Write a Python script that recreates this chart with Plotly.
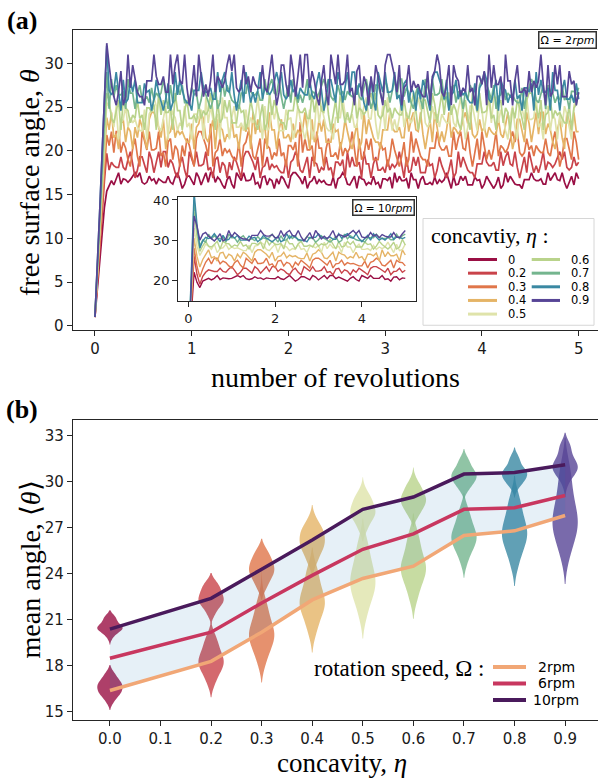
import numpy as np
import plotly.graph_objects as go

# ---------------- data ----------------
eta_labels = ["0", "0.2", "0.3", "0.4", "0.5", "0.6", "0.7", "0.8", "0.9"]
eta_values = [0.0, 0.2, 0.3, 0.4, 0.5, 0.6, 0.7, 0.8, 0.9]
eta_ticktext = ["0.0", "0.1", "0.2", "0.3", "0.4", "0.5", "0.6", "0.7", "0.8", "0.9"]
eta_tickvals = [0.0, 0.1, 0.2, 0.3, 0.4, 0.5, 0.6, 0.7, 0.8, 0.9]

line_colors = ["#9a0f44", "#c9434a", "#e0764a", "#e5b466", "#dfe3aa",
               "#b9d38b", "#74b58e", "#3a88a2", "#574596"]

# free surface angle time series, Omega = 2 rpm (0 -> 5 revolutions)
theta_2rpm_eta00 = [1.0, 4.0, 7.5, 10.5, 13.5, 15.4,
    16.1, 16.6, 16.1, 16.7, 17.5, 16.2, 16.8, 16.7, 16.4, 16.7, 17.1, 17.5, 17.0, 17.5, 16.4, 16.2, 16.4, 17.1, 16.6, 16.8,
    16.2, 16.8, 16.6, 16.4, 16.4, 17.1, 16.4, 16.2, 17.0, 17.5, 16.7, 15.7, 16.2, 17.1, 17.1, 16.6, 16.1, 17.5, 17.0, 16.1,
    16.8, 17.5, 16.4, 17.5, 17.5, 16.4, 17.0, 16.7, 16.1, 15.7, 16.7, 17.1, 16.2, 15.7, 17.5, 17.0, 16.6, 17.5, 16.6, 16.6,
    16.7, 17.5, 16.2, 16.4, 15.7, 17.0, 17.1, 16.1, 16.8, 16.6, 15.7, 16.8, 16.2, 17.1, 16.8, 16.2, 15.7, 17.1, 17.5, 17.5,
    17.1, 16.8, 16.2, 17.1, 15.7, 16.4, 16.6, 17.1, 16.2, 16.7, 16.4, 16.6, 16.2, 16.1, 16.1, 17.0, 15.7, 16.8, 17.0, 17.5,
    17.1, 16.2, 16.1, 16.6, 17.1, 15.7, 17.1, 16.8, 16.7, 16.1, 16.4, 16.2, 17.1, 16.2, 16.4, 15.7, 16.8, 16.8, 16.6, 17.0,
    15.7, 17.5, 16.4, 17.1, 16.6, 16.6, 16.8, 15.7, 17.5, 16.7, 16.7, 15.7, 16.7, 17.1, 16.2, 16.2, 16.4, 16.1, 17.0, 16.2,
    16.7, 16.4, 16.7, 17.5, 16.6, 15.7, 17.1, 16.1, 16.2, 17.1, 16.6, 17.1, 16.1, 16.1, 16.1, 17.0, 16.6, 16.7, 15.7, 16.2,
    17.1, 16.6, 16.1, 15.7, 16.2, 17.0, 15.7, 16.1, 17.5, 16.4, 17.1, 16.7, 16.2, 16.1, 16.1, 15.7, 16.7, 16.7, 16.7, 17.5,
    16.8, 16.6, 16.6, 16.8, 16.2, 16.2, 17.5, 16.6, 17.1, 17.5, 16.7, 16.6, 17.5, 16.4, 15.7, 16.4, 17.1, 16.1, 17.5, 16.8]
theta_2rpm_eta02 = [1.0, 4.5, 8.5, 12.5, 16.5, 19.7,
    17.8, 18.7, 18.3, 18.1, 18.1, 19.3, 18.1, 17.8, 19.0, 19.9, 18.5, 16.9, 17.8, 19.3, 19.3, 18.3, 17.5, 19.9, 19.0, 17.5,
    18.7, 19.9, 18.1, 19.9, 19.9, 18.1, 19.0, 18.5, 17.5, 16.9, 18.5, 19.3, 17.8, 16.9, 19.9, 19.0, 18.3, 19.9, 18.3, 18.3,
    18.5, 19.9, 17.8, 18.1, 16.9, 19.0, 19.3, 17.5, 18.7, 18.3, 16.9, 18.7, 17.8, 19.3, 18.7, 17.8, 16.9, 19.3, 19.9, 19.9,
    19.3, 18.7, 17.8, 19.3, 16.9, 18.1, 18.3, 19.3, 17.8, 18.5, 18.1, 18.3, 17.8, 17.5, 17.5, 19.0, 16.9, 18.7, 19.0, 19.9,
    19.3, 17.8, 17.5, 18.3, 19.3, 16.9, 19.3, 18.7, 18.5, 17.5, 18.1, 17.8, 19.3, 17.8, 18.1, 16.9, 18.7, 18.7, 18.3, 19.0,
    16.9, 19.9, 18.1, 19.3, 18.3, 18.3, 18.7, 16.9, 19.9, 18.5, 18.5, 16.9, 18.5, 19.3, 17.8, 17.8, 18.1, 17.5, 19.0, 17.8,
    18.5, 18.1, 18.5, 19.9, 18.3, 16.9, 19.3, 17.5, 17.8, 19.3, 18.3, 19.3, 17.5, 17.5, 17.5, 19.0, 18.3, 18.5, 16.9, 17.8,
    19.3, 18.3, 17.5, 16.9, 17.8, 19.0, 16.9, 17.5, 19.9, 18.1, 19.3, 18.5, 17.8, 17.5, 17.5, 16.9, 18.5, 18.5, 18.5, 19.9,
    18.7, 18.3, 18.3, 18.7, 17.8, 17.8, 19.9, 18.3, 19.3, 19.9, 18.5, 18.3, 19.9, 18.1, 16.9, 18.1, 19.3, 17.5, 19.9, 18.7,
    17.5, 18.3, 17.5, 18.5, 19.9, 17.8, 18.7, 18.5, 18.1, 18.5, 19.3, 19.9, 19.0, 19.9, 18.1, 17.8, 18.1, 19.3, 18.3, 18.7]
theta_2rpm_eta03 = [1.0, 5.0, 9.5, 13.5, 18.0, 21.8,
    20.6, 22.2, 19.8, 22.2, 22.2, 19.8, 21.0, 20.3, 19.0, 18.2, 20.3, 21.4, 19.4, 18.2, 22.2, 21.0, 20.1, 22.2, 20.1, 20.1,
    20.3, 22.2, 19.4, 19.8, 18.2, 21.0, 21.4, 19.0, 20.6, 20.1, 18.2, 20.6, 19.4, 21.4, 20.6, 19.4, 18.2, 21.4, 22.2, 22.2,
    21.4, 20.6, 19.4, 23.1, 18.2, 19.8, 20.1, 21.4, 19.4, 20.3, 19.8, 20.1, 19.4, 19.0, 19.0, 21.0, 18.2, 20.6, 21.0, 22.2,
    21.4, 19.4, 19.0, 20.1, 21.4, 18.2, 21.4, 20.6, 20.3, 19.0, 19.8, 19.4, 21.4, 19.4, 19.8, 18.2, 20.6, 20.6, 20.1, 21.0,
    18.2, 23.3, 19.8, 21.4, 20.1, 20.1, 20.6, 18.2, 22.2, 20.3, 20.3, 18.2, 20.3, 21.4, 19.4, 19.4, 19.8, 19.0, 21.0, 19.4,
    20.3, 19.8, 20.3, 22.2, 20.1, 18.2, 21.4, 19.0, 19.4, 21.4, 20.1, 21.4, 19.0, 19.0, 19.0, 21.0, 20.1, 20.3, 18.2, 19.4,
    21.4, 20.1, 19.0, 18.2, 19.4, 21.0, 18.2, 19.0, 22.2, 19.8, 21.4, 20.3, 19.4, 19.0, 19.0, 18.2, 20.3, 20.3, 20.3, 22.2,
    20.6, 20.1, 20.1, 20.6, 19.4, 19.4, 22.2, 20.1, 21.4, 22.2, 20.3, 20.1, 22.2, 19.8, 18.2, 19.8, 21.4, 19.0, 22.2, 20.6,
    19.0, 20.1, 19.0, 20.3, 22.2, 19.4, 20.6, 20.3, 19.8, 20.3, 21.4, 22.2, 21.0, 22.2, 19.8, 19.4, 19.8, 21.4, 20.1, 20.6,
    19.4, 20.6, 20.1, 19.8, 19.8, 21.4, 19.8, 19.4, 21.0, 22.2, 20.3, 18.2, 19.4, 21.4, 21.4, 20.1, 19.0, 22.2, 21.0, 19.0]
theta_2rpm_eta04 = [1.0, 5.5, 10.0, 14.5, 19.5, 23.8,
    22.4, 24.4, 21.5, 21.9, 20.2, 23.1, 23.6, 21.0, 22.7, 22.2, 20.2, 22.7, 21.5, 23.6, 22.7, 21.5, 20.2, 23.6, 24.4, 24.4,
    23.6, 22.7, 21.5, 23.6, 20.2, 21.9, 22.2, 23.6, 21.5, 22.4, 21.9, 22.2, 21.5, 21.0, 21.0, 23.1, 20.2, 22.7, 23.1, 24.4,
    23.6, 21.5, 21.0, 22.2, 23.6, 20.2, 23.6, 22.7, 22.4, 21.0, 21.9, 21.5, 23.6, 21.5, 21.9, 20.2, 22.7, 22.7, 22.2, 23.1,
    20.2, 24.4, 21.9, 23.6, 22.2, 22.2, 22.7, 20.2, 24.4, 22.4, 22.4, 20.2, 22.4, 23.6, 21.5, 21.5, 21.9, 21.0, 23.1, 21.5,
    22.4, 21.9, 22.4, 24.4, 22.2, 20.2, 23.6, 21.0, 21.5, 23.6, 22.2, 23.6, 21.0, 21.0, 21.0, 23.1, 22.2, 22.4, 20.2, 21.5,
    23.6, 22.2, 21.0, 20.2, 21.5, 23.1, 20.2, 21.0, 24.4, 21.9, 23.6, 22.4, 21.5, 21.0, 21.0, 20.2, 22.4, 22.4, 22.4, 24.4,
    22.7, 22.2, 22.2, 22.7, 21.5, 21.5, 24.4, 22.2, 23.6, 24.4, 22.4, 22.2, 24.4, 21.9, 20.2, 21.9, 23.6, 21.0, 24.4, 22.7,
    21.0, 22.2, 21.0, 22.4, 24.4, 21.5, 22.7, 22.4, 21.9, 22.4, 23.6, 24.4, 23.1, 24.4, 21.9, 21.5, 21.9, 23.6, 22.2, 22.7,
    21.5, 22.7, 22.2, 21.9, 21.9, 23.6, 21.9, 21.5, 23.1, 24.4, 22.4, 20.2, 21.5, 23.6, 23.6, 22.2, 21.0, 24.4, 23.1, 21.0,
    22.7, 24.4, 21.9, 24.4, 24.4, 21.9, 23.1, 22.4, 21.0, 20.2, 22.4, 23.6, 21.5, 20.2, 24.4, 23.1, 22.2, 24.4, 22.2, 22.2]
theta_2rpm_eta05 = [1.0, 5.5, 10.5, 15.5, 20.5, 25.5,
    25.1, 24.2, 22.7, 25.1, 21.3, 23.2, 23.6, 25.1, 22.7, 23.8, 23.2, 23.6, 22.7, 22.3, 22.3, 24.7, 21.3, 24.2, 24.7, 26.1,
    25.1, 22.7, 22.3, 23.6, 25.1, 21.3, 25.1, 24.2, 23.8, 22.3, 23.2, 22.7, 25.1, 22.7, 23.2, 21.3, 24.2, 24.2, 23.6, 24.7,
    21.3, 26.1, 23.2, 25.1, 23.6, 23.6, 24.2, 21.3, 26.1, 23.8, 23.8, 21.3, 23.8, 25.1, 22.7, 22.7, 23.2, 22.3, 24.7, 22.7,
    23.8, 23.2, 23.8, 26.1, 23.6, 21.3, 25.1, 22.3, 22.7, 25.1, 23.6, 25.1, 22.3, 22.3, 22.3, 24.7, 23.6, 23.8, 21.3, 22.7,
    25.1, 23.6, 22.3, 21.3, 22.7, 24.7, 21.3, 22.3, 26.1, 23.2, 25.1, 23.8, 22.7, 22.3, 22.3, 21.3, 23.8, 23.8, 23.8, 26.1,
    24.2, 23.6, 23.6, 24.2, 22.7, 22.7, 26.1, 23.6, 25.1, 26.1, 23.8, 23.6, 26.1, 23.2, 21.3, 23.2, 25.1, 22.3, 26.1, 24.2,
    22.3, 23.6, 22.3, 23.8, 26.1, 22.7, 24.2, 23.8, 23.2, 23.8, 25.1, 26.1, 24.7, 26.1, 23.2, 22.7, 23.2, 25.1, 23.6, 24.2,
    22.7, 24.2, 23.6, 23.2, 23.2, 25.1, 23.2, 22.7, 24.7, 26.1, 23.8, 21.3, 22.7, 25.1, 25.1, 23.6, 22.3, 26.1, 24.7, 22.3,
    24.2, 26.1, 23.2, 26.1, 26.1, 23.2, 24.7, 23.8, 22.3, 21.3, 23.8, 25.1, 22.7, 21.3, 26.1, 24.7, 23.6, 26.1, 23.6, 23.6,
    23.8, 26.1, 22.7, 23.2, 21.3, 24.7, 25.1, 22.3, 24.2, 23.6, 21.3, 24.2, 22.7, 25.1, 24.2, 22.7, 21.3, 25.1, 26.1, 26.1]
theta_2rpm_eta06 = [1.0, 6.0, 11.0, 16.5, 21.5, 26.6,
    25.8, 23.7, 23.2, 24.4, 25.8, 22.4, 25.8, 24.9, 24.6, 23.2, 24.1, 23.7, 25.8, 23.7, 24.1, 22.4, 24.9, 24.9, 24.4, 25.3,
    22.4, 26.6, 24.1, 25.8, 24.4, 24.4, 24.9, 22.4, 26.6, 24.6, 24.6, 22.4, 24.6, 25.8, 23.7, 23.7, 24.1, 23.2, 25.3, 23.7,
    24.6, 24.1, 24.6, 26.6, 24.4, 22.4, 25.8, 23.2, 23.7, 25.8, 24.4, 25.8, 23.2, 23.2, 23.2, 25.3, 24.4, 24.6, 22.4, 23.7,
    25.8, 24.4, 23.2, 22.4, 23.7, 25.3, 22.4, 23.2, 26.6, 24.1, 25.8, 24.6, 23.7, 23.2, 23.2, 22.4, 24.6, 24.6, 24.6, 26.6,
    24.9, 24.4, 24.4, 24.9, 23.7, 23.7, 26.6, 24.4, 25.8, 26.6, 24.6, 24.4, 26.6, 24.1, 22.4, 24.1, 25.8, 23.2, 26.6, 24.9,
    23.2, 24.4, 23.2, 24.6, 26.6, 23.7, 24.9, 24.6, 24.1, 24.6, 25.8, 26.6, 25.3, 26.6, 24.1, 23.7, 24.1, 25.8, 24.4, 24.9,
    23.7, 24.9, 24.4, 24.1, 24.1, 25.8, 24.1, 23.7, 25.3, 26.6, 24.6, 22.4, 23.7, 25.8, 25.8, 24.4, 23.2, 26.6, 25.3, 23.2,
    24.9, 26.6, 24.1, 26.6, 26.6, 24.1, 25.3, 24.6, 23.2, 22.4, 24.6, 25.8, 23.7, 22.4, 26.6, 25.3, 24.4, 26.6, 24.4, 24.4,
    24.6, 26.6, 23.7, 24.1, 22.4, 25.3, 25.8, 23.2, 24.9, 24.4, 22.4, 24.9, 23.7, 25.8, 24.9, 23.7, 22.4, 25.8, 26.6, 26.6,
    25.8, 24.9, 23.7, 25.8, 22.4, 24.1, 24.4, 25.8, 23.7, 24.6, 24.1, 24.4, 23.7, 23.2, 23.2, 25.3, 22.4, 24.9, 25.3, 26.6]
theta_2rpm_eta07 = [1.0, 6.0, 12.0, 17.5, 23.5, 29.0,
    24.8, 28.2, 26.2, 27.5, 26.4, 26.4, 26.8, 24.8, 28.2, 26.6, 26.6, 24.8, 26.6, 27.5, 25.8, 25.8, 26.2, 25.5, 27.2, 25.8,
    26.6, 26.2, 26.6, 28.2, 26.4, 24.8, 27.5, 25.5, 25.8, 27.5, 26.4, 27.5, 25.5, 25.5, 25.5, 27.2, 26.4, 26.6, 24.8, 25.8,
    27.5, 26.4, 25.5, 24.8, 25.8, 27.2, 24.8, 25.5, 28.2, 26.2, 27.5, 26.6, 25.8, 25.5, 25.5, 24.8, 26.6, 26.6, 26.6, 28.2,
    26.8, 26.4, 26.4, 26.8, 25.8, 25.8, 28.2, 26.4, 27.5, 28.2, 26.6, 26.4, 28.2, 26.2, 24.8, 26.2, 27.5, 25.5, 28.2, 26.8,
    25.5, 26.4, 25.5, 26.6, 28.2, 25.8, 26.8, 26.6, 26.2, 26.6, 27.5, 28.2, 27.2, 28.2, 26.2, 25.8, 26.2, 27.5, 26.4, 26.8,
    25.8, 26.8, 26.4, 26.2, 26.2, 27.5, 26.2, 25.8, 27.2, 28.2, 26.6, 24.8, 25.8, 27.5, 27.5, 26.4, 25.5, 28.2, 27.2, 25.5,
    26.8, 28.2, 26.2, 28.2, 28.2, 26.2, 27.2, 26.6, 25.5, 24.8, 26.6, 27.5, 25.8, 24.8, 28.2, 27.2, 26.4, 28.2, 26.4, 26.4,
    26.6, 28.2, 25.8, 26.2, 24.8, 27.2, 27.5, 25.5, 26.8, 26.4, 24.8, 26.8, 25.8, 27.5, 26.8, 25.8, 24.8, 27.5, 28.2, 28.2,
    27.5, 26.8, 25.8, 27.5, 24.8, 26.2, 26.4, 27.5, 25.8, 26.6, 26.2, 26.4, 25.8, 25.5, 25.5, 27.2, 24.8, 26.8, 27.2, 28.2,
    27.5, 25.8, 25.5, 26.4, 27.5, 24.8, 27.5, 26.8, 26.6, 25.5, 26.2, 25.8, 27.5, 25.8, 26.2, 24.8, 26.8, 26.8, 26.4, 27.2]
theta_2rpm_eta08 = [1.0, 6.5, 13.0, 19.5, 25.5, 32.0,
    26.9, 26.4, 26.9, 29.0, 26.7, 24.6, 28.1, 25.5, 25.9, 28.1, 26.7, 28.1, 25.5, 25.5, 25.5, 27.7, 26.7, 26.9, 24.6, 25.9,
    28.1, 26.7, 25.5, 24.6, 25.9, 27.7, 24.6, 25.5, 29.0, 26.4, 28.1, 26.9, 25.9, 25.5, 25.5, 24.6, 26.9, 26.9, 26.9, 29.0,
    27.2, 26.7, 26.7, 27.2, 25.9, 25.9, 29.0, 26.7, 28.1, 29.0, 26.9, 26.7, 29.0, 26.4, 24.6, 26.4, 28.1, 25.5, 29.0, 27.2,
    25.5, 26.7, 25.5, 26.9, 29.0, 25.9, 27.2, 26.9, 26.4, 26.9, 28.1, 29.0, 27.7, 29.0, 26.4, 25.9, 26.4, 28.1, 26.7, 27.2,
    25.9, 27.2, 26.7, 26.4, 26.4, 28.1, 26.4, 25.9, 27.7, 29.0, 26.9, 24.6, 25.9, 28.1, 28.1, 26.7, 25.5, 29.0, 27.7, 25.5,
    27.2, 29.0, 26.4, 29.0, 29.0, 26.4, 27.7, 26.9, 25.5, 24.6, 26.9, 28.1, 25.9, 24.6, 29.0, 27.7, 26.7, 29.0, 26.7, 26.7,
    26.9, 29.0, 25.9, 26.4, 24.6, 27.7, 28.1, 25.5, 27.2, 26.7, 24.6, 27.2, 25.9, 28.1, 27.2, 25.9, 24.6, 28.1, 29.0, 29.0,
    28.1, 27.2, 25.9, 28.1, 24.6, 26.4, 26.7, 28.1, 25.9, 26.9, 26.4, 26.7, 25.9, 25.5, 25.5, 27.7, 24.6, 27.2, 27.7, 29.0,
    28.1, 25.9, 25.5, 26.7, 28.1, 24.6, 28.1, 27.2, 26.9, 25.5, 26.4, 25.9, 28.1, 25.9, 26.4, 24.6, 27.2, 27.2, 26.7, 27.7,
    24.6, 29.0, 26.4, 28.1, 26.7, 26.7, 27.2, 24.6, 29.0, 26.9, 26.9, 24.6, 26.9, 28.1, 25.9, 25.9, 26.4, 25.5, 27.7, 25.9]
theta_2rpm_eta09 = [1.0, 6.5, 13.0, 19.5, 26.0, 32.3,
    29.8, 27.6, 26.2, 25.2, 26.7, 29.1, 25.2, 26.2, 31.0, 27.2, 29.8, 28.0, 26.7, 26.2, 26.2, 25.2, 28.0, 28.0, 28.0, 31.0,
    28.5, 27.6, 27.6, 28.5, 26.7, 26.7, 31.0, 27.6, 29.8, 31.0, 28.0, 27.6, 31.0, 27.2, 25.2, 27.2, 29.8, 26.2, 31.0, 28.5,
    26.2, 27.6, 26.2, 28.0, 31.0, 26.7, 28.5, 28.0, 27.2, 28.0, 29.8, 31.0, 29.1, 31.0, 27.2, 26.7, 27.2, 29.8, 27.6, 28.5,
    26.7, 28.5, 27.6, 27.2, 27.2, 29.8, 27.2, 26.7, 29.1, 31.0, 28.0, 25.2, 26.7, 29.8, 29.8, 27.6, 26.2, 31.0, 29.1, 26.2,
    28.5, 31.0, 27.2, 31.0, 31.0, 27.2, 29.1, 28.0, 26.2, 25.2, 28.0, 29.8, 26.7, 25.2, 31.0, 29.1, 27.6, 31.0, 27.6, 27.6,
    28.0, 31.0, 26.7, 27.2, 25.2, 29.1, 29.8, 26.2, 28.5, 27.6, 25.2, 28.5, 26.7, 29.8, 28.5, 26.7, 25.2, 29.8, 31.0, 31.0,
    29.8, 28.5, 26.7, 29.8, 25.2, 27.2, 27.6, 29.8, 26.7, 28.0, 27.2, 27.6, 26.7, 26.2, 26.2, 29.1, 25.2, 28.5, 29.1, 31.0,
    29.8, 26.7, 26.2, 27.6, 29.8, 25.2, 29.8, 28.5, 28.0, 26.2, 27.2, 26.7, 29.8, 26.7, 27.2, 25.2, 28.5, 28.5, 27.6, 29.1,
    25.2, 31.0, 27.2, 29.8, 27.6, 27.6, 28.5, 25.2, 31.0, 28.0, 28.0, 25.2, 28.0, 29.8, 26.7, 26.7, 27.2, 26.2, 29.1, 26.7,
    28.0, 27.2, 28.0, 31.0, 27.6, 25.2, 29.8, 26.2, 26.7, 29.8, 27.6, 29.8, 26.2, 26.2, 26.2, 29.1, 27.6, 28.0, 25.2, 26.7]

# free surface angle time series, Omega = 10 rpm (inset)
theta_10rpm_eta00 = [0.0, 11.0, 22.0, 19.5, 18.2, 19.8,
    20.1, 20.5, 20.1, 20.5, 21.2, 20.2, 20.6, 20.5, 20.4, 20.5, 20.9, 21.2, 20.8, 21.2, 20.4, 20.2, 20.4, 20.9, 20.5, 20.6,
    20.2, 20.6, 20.5, 20.4, 20.4, 20.9, 20.4, 20.2, 20.8, 21.2, 20.5, 19.8, 20.2, 20.9, 20.9, 20.5, 20.1, 21.2, 20.8, 20.1,
    20.6, 21.2, 20.4, 21.2, 21.2, 20.4, 20.8, 20.5, 20.1, 19.8, 20.5, 20.9, 20.2, 19.8, 21.2, 20.8, 20.5, 21.2, 20.5, 20.5,
    20.5, 21.2, 20.2, 20.4, 19.8, 20.8, 20.9, 20.1, 20.6, 20.5]
theta_10rpm_eta02 = [0.0, 13.0, 26.0, 21.5, 19.0, 21.0,
    22.0, 22.6, 22.3, 22.2, 22.2, 23.0, 22.2, 22.0, 22.8, 23.4, 22.5, 21.4, 22.0, 23.0, 23.0, 22.3, 21.8, 23.4, 22.8, 21.8,
    22.6, 23.4, 22.2, 23.4, 23.4, 22.2, 22.8, 22.5, 21.8, 21.4, 22.5, 23.0, 22.0, 21.4, 23.4, 22.8, 22.3, 23.4, 22.3, 22.3,
    22.5, 23.4, 22.0, 22.2, 21.4, 22.8, 23.0, 21.8, 22.6, 22.3, 21.4, 22.6, 22.0, 23.0, 22.6, 22.0, 21.4, 23.0, 23.4, 23.4,
    23.0, 22.6, 22.0, 23.0, 21.4, 22.2, 22.3, 23.0, 22.0, 22.5]
theta_10rpm_eta03 = [0.0, 14.0, 28.0, 23.5, 20.8, 22.8,
    24.5, 25.5, 24.1, 25.5, 25.5, 24.1, 24.8, 24.4, 23.6, 23.1, 24.4, 25.0, 23.8, 23.1, 25.5, 24.8, 24.2, 25.5, 24.2, 24.2,
    24.4, 25.5, 23.8, 24.1, 23.1, 24.8, 25.0, 23.6, 24.5, 24.2, 23.1, 24.5, 23.8, 25.0, 24.5, 23.8, 23.1, 25.0, 25.5, 25.5,
    25.0, 24.5, 23.8, 25.0, 23.1, 24.1, 24.2, 25.0, 23.8, 24.4, 24.1, 24.2, 23.8, 23.6, 23.6, 24.8, 23.1, 24.5, 24.8, 25.5,
    25.0, 23.8, 23.6, 24.2, 25.0, 23.1, 25.0, 24.5, 24.4, 23.6]
theta_10rpm_eta04 = [0.0, 15.0, 30.5, 26.0, 23.3, 25.2,
    26.3, 27.6, 25.6, 25.9, 24.8, 26.8, 27.0, 25.4, 26.5, 26.1, 24.8, 26.5, 25.6, 27.0, 26.5, 25.6, 24.8, 27.0, 27.6, 27.6,
    27.0, 26.5, 25.6, 27.0, 24.8, 25.9, 26.1, 27.0, 25.6, 26.3, 25.9, 26.1, 25.6, 25.4, 25.4, 26.8, 24.8, 26.5, 26.8, 27.6,
    27.0, 25.6, 25.4, 26.1, 27.0, 24.8, 27.0, 26.5, 26.3, 25.4, 25.9, 25.6, 27.0, 25.6, 25.9, 24.8, 26.5, 26.5, 26.1, 26.8,
    24.8, 27.6, 25.9, 27.0, 26.1, 26.1, 26.5, 24.8, 27.6, 26.3]
theta_10rpm_eta05 = [0.0, 16.5, 33.0, 28.5, 26.2, 27.5,
    29.0, 28.5, 27.7, 29.0, 26.9, 27.9, 28.1, 29.0, 27.7, 28.3, 27.9, 28.1, 27.7, 27.4, 27.4, 28.7, 26.9, 28.5, 28.7, 29.5,
    29.0, 27.7, 27.4, 28.1, 29.0, 26.9, 29.0, 28.5, 28.3, 27.4, 27.9, 27.7, 29.0, 27.7, 27.9, 26.9, 28.5, 28.5, 28.1, 28.7,
    26.9, 29.5, 27.9, 29.0, 28.1, 28.1, 28.5, 26.9, 29.5, 28.3, 28.3, 26.9, 28.3, 29.0, 27.7, 27.7, 27.9, 27.4, 28.7, 27.7,
    28.3, 27.9, 28.3, 29.5, 28.1, 26.9, 29.0, 27.4, 27.7, 29.0]
theta_10rpm_eta06 = [0.0, 18.5, 37.0, 31.0, 27.2, 28.6,
    29.7, 28.5, 28.3, 28.9, 29.7, 27.8, 29.7, 29.2, 29.1, 28.3, 28.8, 28.5, 29.7, 28.5, 28.8, 27.8, 29.2, 29.2, 28.9, 29.5,
    27.8, 30.2, 28.8, 29.7, 28.9, 28.9, 29.2, 27.8, 30.2, 29.1, 29.1, 27.8, 29.1, 29.7, 28.5, 28.5, 28.8, 28.3, 29.5, 28.5,
    29.1, 28.8, 29.1, 30.2, 28.9, 27.8, 29.7, 28.3, 28.5, 29.7, 28.9, 29.7, 28.3, 28.3, 28.3, 29.5, 28.9, 29.1, 27.8, 28.5,
    29.7, 28.9, 28.3, 27.8, 28.5, 29.5, 27.8, 28.3, 30.2, 28.8]
theta_10rpm_eta07 = [0.0, 20.0, 40.0, 33.0, 28.6, 30.0,
    29.5, 31.5, 30.3, 31.1, 30.4, 30.4, 30.7, 29.5, 31.5, 30.6, 30.6, 29.5, 30.6, 31.1, 30.1, 30.1, 30.3, 29.9, 30.9, 30.1,
    30.6, 30.3, 30.6, 31.5, 30.4, 29.5, 31.1, 29.9, 30.1, 31.1, 30.4, 31.1, 29.9, 29.9, 29.9, 30.9, 30.4, 30.6, 29.5, 30.1,
    31.1, 30.4, 29.9, 29.5, 30.1, 30.9, 29.5, 29.9, 31.5, 30.3, 31.1, 30.6, 30.1, 29.9, 29.9, 29.5, 30.6, 30.6, 30.6, 31.5,
    30.7, 30.4, 30.4, 30.7, 30.1, 30.1, 31.5, 30.4, 31.1, 31.5]
theta_10rpm_eta08 = [0.0, 21.0, 42.0, 34.0, 28.0, 29.8,
    30.7, 30.4, 30.7, 31.6, 30.5, 29.6, 31.2, 30.0, 30.2, 31.2, 30.5, 31.2, 30.0, 30.0, 30.0, 31.0, 30.5, 30.7, 29.6, 30.2,
    31.2, 30.5, 30.0, 29.6, 30.2, 31.0, 29.6, 30.0, 31.6, 30.4, 31.2, 30.7, 30.2, 30.0, 30.0, 29.6, 30.7, 30.7, 30.7, 31.6,
    30.8, 30.5, 30.5, 30.8, 30.2, 30.2, 31.6, 30.5, 31.2, 31.6, 30.7, 30.5, 31.6, 30.4, 29.6, 30.4, 31.2, 30.0, 31.6, 30.8,
    30.0, 30.5, 30.0, 30.7, 31.6, 30.2, 30.8, 30.7, 30.4, 30.7]
theta_10rpm_eta09 = [0.0, 18.0, 36.0, 33.5, 30.0, 31.5,
    31.9, 31.0, 30.3, 29.8, 30.6, 31.6, 29.8, 30.3, 32.4, 30.8, 31.9, 31.2, 30.6, 30.3, 30.3, 29.8, 31.2, 31.2, 31.2, 32.4,
    31.4, 31.0, 31.0, 31.4, 30.6, 30.6, 32.4, 31.0, 31.9, 32.4, 31.2, 31.0, 32.4, 30.8, 29.8, 30.8, 31.9, 30.3, 32.4, 31.4,
    30.3, 31.0, 30.3, 31.2, 32.4, 30.6, 31.4, 31.2, 30.8, 31.2, 31.9, 32.4, 31.6, 32.4, 30.8, 30.6, 30.8, 31.9, 31.0, 31.4,
    30.6, 31.4, 31.0, 30.8, 30.8, 31.9, 30.8, 30.6, 31.6, 32.4]

# mean angle vs concavity for each rotation speed
speed_labels = ["2rpm", "6rpm", "10rpm"]
mean_2rpm = [16.4, 18.3, 20.2, 22.3, 23.7, 24.5, 26.5, 26.8, 27.8]
mean_6rpm = [18.5, 20.2, 22.1, 23.9, 25.6, 26.6, 28.2, 28.3, 29.1]
mean_10rpm = [20.4, 22.4, 24.3, 26.2, 28.2, 29.0, 30.5, 30.6, 31.1]
speed_colors = ["#f1a776", "#c8375f", "#4a1a5c"]

series_2 = [theta_2rpm_eta00, theta_2rpm_eta02, theta_2rpm_eta03, theta_2rpm_eta04, theta_2rpm_eta05,
            theta_2rpm_eta06, theta_2rpm_eta07, theta_2rpm_eta08, theta_2rpm_eta09]
series_10 = [theta_10rpm_eta00, theta_10rpm_eta02, theta_10rpm_eta03, theta_10rpm_eta04, theta_10rpm_eta05,
             theta_10rpm_eta06, theta_10rpm_eta07, theta_10rpm_eta08, theta_10rpm_eta09]

# ---------------- helpers ----------------
W, H = 598, 781
def px(x):
    return x / W
def py(y):
    return 1 - y / H

def rgba(hexc, a):
    h = hexc.lstrip("#")
    return "rgba(%d,%d,%d,%.2f)" % (int(h[0:2], 16), int(h[2:4], 16), int(h[4:6], 16), a)

fig = go.Figure()

# ---------------- panel (a): main ----------------
for lab, s, c in zip(eta_labels, series_2, line_colors):
    fig.add_trace(go.Scatter(x=np.linspace(0, 5, len(s)), y=s, mode="lines",
                             line=dict(color=c, width=1.7), xaxis="x", yaxis="y",
                             name=lab, showlegend=False))

# ---------------- panel (a): inset ----------------
for lab, s, c in zip(eta_labels, series_10, line_colors):
    fig.add_trace(go.Scatter(x=np.linspace(0, 5, len(s)), y=s, mode="lines",
                             line=dict(color=c, width=1.4), xaxis="x2", yaxis="y2",
                             name=lab, showlegend=False))

# ---------------- panel (b) ----------------
fig.add_trace(go.Scatter(x=eta_values, y=mean_2rpm, mode="lines", line=dict(width=0),
                         xaxis="x3", yaxis="y3", showlegend=False, hoverinfo="skip"))
fig.add_trace(go.Scatter(x=eta_values, y=mean_10rpm, mode="lines", line=dict(width=0),
                         fill="tonexty", fillcolor="rgba(31,119,180,0.11)",
                         xaxis="x3", yaxis="y3", showlegend=False, hoverinfo="skip"))

for eta, s2, s10, c in zip(eta_values, series_2, series_10, line_colors):
    for s, start in ((s2, 8), (s10, 6)):
        vals = s[start:]
        fig.add_trace(go.Violin(x0=eta, y=vals, width=0.05, scalemode="width",
                                spanmode="soft", side="both", points=False,
                                bandwidth=0.55 * float(np.std(vals)),
                                fillcolor=rgba(c, 0.8), line=dict(width=0, color=rgba(c, 0.8)),
                                box=dict(visible=False), meanline=dict(visible=False),
                                xaxis="x3", yaxis="y3", showlegend=False, hoverinfo="skip"))

for lab, m, c in zip(speed_labels, [mean_2rpm, mean_6rpm, mean_10rpm], speed_colors):
    fig.add_trace(go.Scatter(x=eta_values, y=m, mode="lines", line=dict(color=c, width=3.5),
                             xaxis="x3", yaxis="y3", name=lab, showlegend=False))

# ---------------- layout ----------------
TICKFONT = dict(family="DejaVu Sans", size=15, color="#1a1a1a")
SMALLTICK = dict(family="DejaVu Sans", size=13, color="#1a1a1a")
def axis(**kw):
    d = dict(showgrid=False, zeroline=False, showline=True, linecolor="#262626", linewidth=1.2,
             ticks="outside", ticklen=5, tickwidth=1.2, tickcolor="#262626", tickfont=TICKFONT)
    d.update(kw)
    return d

fig.update_layout(
    width=W, height=H, margin=dict(l=0, r=0, t=0, b=0),
    paper_bgcolor="white", plot_bgcolor="white", showlegend=False,
    violinmode="overlay", hovermode=False,
    xaxis=axis(domain=[px(72.7), 1.0], range=[-0.23, 5.2], anchor="y",
               tickvals=[0, 1, 2, 3, 4, 5], mirror=True),
    yaxis=axis(domain=[py(330), py(26)], range=[-0.5, 33.84], anchor="x",
               tickvals=[0, 5, 10, 15, 20, 25, 30], mirror=False),
    xaxis2=axis(domain=[px(178.3), px(415.7)], range=[-0.23, 5.24], anchor="y2",
                tickvals=[0, 2, 4], mirror=True, tickfont=SMALLTICK),
    yaxis2=axis(domain=[py(300.7), py(195)], range=[14.8, 40.8], anchor="x2",
                tickvals=[20, 30, 40], mirror=True, tickfont=SMALLTICK),
    xaxis3=axis(domain=[px(73), 1.0], range=[-0.073, 0.965], anchor="y3", type="linear",
                tickvals=eta_tickvals, ticktext=eta_ticktext, mirror=True),
    yaxis3=axis(domain=[py(724), py(420.7)], range=[14.5, 34.03], anchor="x3",
                tickvals=[15, 18, 21, 24, 27, 30, 33], mirror=False),
)

SERIF = "Liberation Serif"
ann = []
def text(x, y, t, size, family=SERIF, xanchor="center", angle=0, **kw):
    d = dict(x=px(x), y=py(y), xref="paper", yref="paper", text=t, showarrow=False,
             xanchor=xanchor, yanchor="middle", textangle=angle,
             font=dict(family=family, size=size, color="black"))
    d.update(kw)
    ann.append(d)

text(22, 17, "<b>(a)</b>", 26)
text(22, 410, "<b>(b)</b>", 26)
text(335, 378, "number of revolutions", 28)
text(30, 181, "free surface angle, <i>θ</i>", 28, angle=-90)
text(342, 768, "concavity, <i>η</i>", 27)
text(30, 572, "mean angle, ⟨<i>θ</i>⟩", 28, angle=-90)
text(597, 36, "Ω = 2<i>rpm</i>", 11, family="DejaVu Sans", xanchor="right",
     bordercolor="#333333", borderwidth=1.5, borderpad=1, bgcolor="white")
text(383, 206, "Ω = 10<i>rpm</i>", 10.5, family="DejaVu Sans",
     bordercolor="#333333", borderwidth=1.5, borderpad=1, bgcolor="white")

# legend (a)
shapes = [dict(type="rect", xref="paper", yref="paper", x0=px(423), x1=px(594), y0=py(325), y1=py(217),
               line=dict(color="#d6d6d6", width=1), fillcolor="rgba(255,255,255,0.85)")]
text(429, 234, "concavtiy, <i>η</i> :", 22, xanchor="left")
rows = [258.5, 272.3, 286.1, 299.9, 313.7]
for i, (lab, c) in enumerate(zip(eta_labels, line_colors)):
    if i < 5:
        x0, x1, tx, ry = 468, 497, 506, rows[i]
    else:
        x0, x1, tx, ry = 531.7, 560, 569, rows[i - 5]
    shapes.append(dict(type="line", xref="paper", yref="paper", x0=px(x0), x1=px(x1), y0=py(ry), y1=py(ry),
                       line=dict(color=c, width=3)))
    text(tx, ry, lab, 11.5, family="DejaVu Sans", xanchor="left")

# legend (b)
text(486, 672, "rotation speed, Ω :", 23, xanchor="right")
for lab, c, ry in zip(speed_labels, speed_colors, [670.7, 687.3, 704.0]):
    shapes.append(dict(type="line", xref="paper", yref="paper", x0=px(493), x1=px(526), y0=py(ry), y1=py(ry),
                       line=dict(color=c, width=4)))
    text(556, ry, lab, 14, family="DejaVu Sans")

fig.update_layout(annotations=ann, shapes=shapes)
fig.write_html("out.html", config={"displayModeBar": False},
               post_script="document.body.style.margin='0';document.body.style.padding='0';"
                           "document.body.style.overflow='hidden';")
